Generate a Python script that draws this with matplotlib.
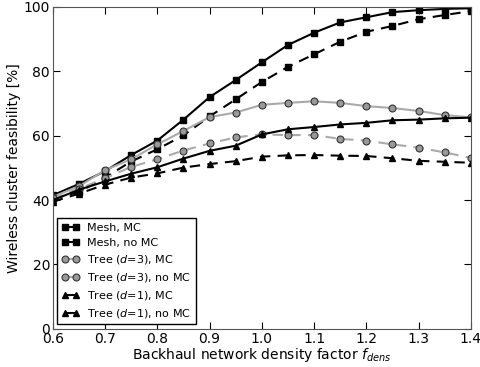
import numpy as np
import matplotlib
matplotlib.use('Agg')
import matplotlib.pyplot as plt

# density factor and feasibility [%] per configuration
f_dens = [0.6, 0.65, 0.7, 0.75, 0.8, 0.85, 0.9, 0.95, 1.0,
          1.05, 1.1, 1.15, 1.2, 1.25, 1.3, 1.35, 1.4]
mesh_mc = [41.5, 45.0, 49.0, 54.0, 58.5, 65.0, 72.0, 77.3, 82.8,
           88.2, 92.0, 95.2, 96.8, 98.4, 99.0, 99.4, 99.6]
mesh_nomc = [40.5, 42.5, 47.0, 52.0, 55.8, 60.1, 66.0, 71.3, 76.7,
             81.4, 85.3, 89.2, 92.3, 94.1, 96.2, 97.5, 98.7]
tree3_mc = [41.0, 44.3, 49.3, 52.7, 57.3, 61.5, 65.8, 67.2, 69.6,
            70.2, 70.7, 70.2, 69.2, 68.6, 67.7, 66.4, 65.7]
tree3_nomc = [40.5, 43.5, 46.8, 50.3, 52.7, 55.4, 57.6, 59.5, 60.4,
              60.2, 60.2, 59.0, 58.5, 57.3, 56.3, 54.8, 53.1]
tree1_mc = [40.0, 43.2, 45.8, 48.2, 50.2, 52.9, 55.3, 56.9, 60.4,
            62.0, 62.7, 63.5, 64.0, 64.8, 65.0, 65.4, 65.6]
tree1_nomc = [39.5, 42.0, 44.8, 47.0, 48.3, 50.1, 51.2, 52.1, 53.5,
              53.9, 54.0, 53.8, 53.7, 53.0, 52.2, 51.9, 51.6]

fig = plt.figure(figsize=(4.8, 3.67), dpi=100)
ax = fig.add_axes([0.110, 0.104, 0.871, 0.877])

dash = (5, 3.5)
ax.plot(f_dens, mesh_mc, '-s', color='black', lw=1.5, ms=5, label='Mesh, MC')
ax.plot(f_dens, mesh_nomc, '--s', color='black', lw=1.5, ms=5, dashes=dash, label='Mesh, no MC')
ax.plot(f_dens, tree3_mc, '-o', color='#aaaaaa', lw=1.5, ms=5,
        mfc='#999999', mec='#333333', mew=0.8, label=r'Tree ($d$=3), MC')
ax.plot(f_dens, tree3_nomc, '--o', color='#aaaaaa', lw=1.5, ms=5, dashes=dash,
        mfc='#999999', mec='#333333', mew=0.8, label=r'Tree ($d$=3), no MC')
ax.plot(f_dens, tree1_mc, '-^', color='black', lw=1.5, ms=5, label=r'Tree ($d$=1), MC')
ax.plot(f_dens, tree1_nomc, '--^', color='black', lw=1.5, ms=5, dashes=dash, label=r'Tree ($d$=1), no MC')

ax.set_xlim(0.6, 1.4)
ax.set_ylim(0, 100)
ax.set_xticks(np.arange(0.6, 1.41, 0.1))
ax.set_yticks([0, 20, 40, 60, 80, 100])
ax.tick_params(direction='in', top=True, right=True, length=5, labelsize=10, pad=2)
for s in ax.spines.values():
    s.set_color('#555555')

ax.set_xlabel(r'Backhaul network density factor $f_{dens}$', fontsize=10, labelpad=0)
ax.set_ylabel('Wireless cluster feasibility [%]', fontsize=10, labelpad=2)

leg = ax.legend(loc='lower left', numpoints=2, fontsize=8, fancybox=False,
                handlelength=1.6, borderpad=0.4, labelspacing=0.45,
                handletextpad=0.7, framealpha=1, borderaxespad=0.4)
leg.get_frame().set_edgecolor('black')

fig.savefig('out.png', dpi=100)
